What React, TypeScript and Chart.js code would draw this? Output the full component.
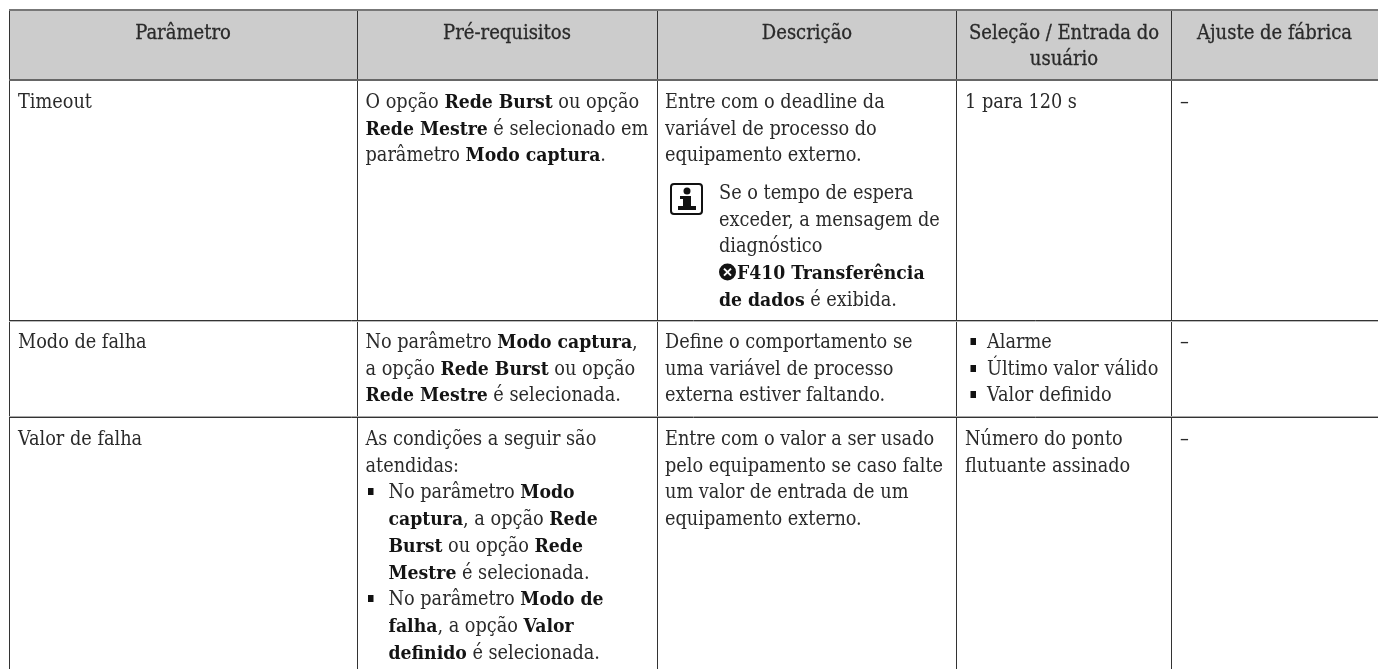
import React, { useEffect, useRef } from "react";
import { Chart, registerables } from "chart.js";

Chart.register(...registerables);

const columnEdges = [9, 357, 657, 957, 1171];
const rowEdges = [10, 80, 320, 321, 416, 417];
const rowEdgeColors = ["#777777", "#666666", "#333333", "#bbbbbb", "#aaaaaa", "#333333"];
const rowEdgeWidths = [2, 2, 1, 1, 1, 1];
const headerBandX = [9, 1378];
const headerBandTop = 10;
const headerBandBottom = 80;

const columnLeft = [18, 365.5, 665, 965, 1180];
const bulletLeft = [0, 368, 0, 970.5, 0];
const bulletText = [0, 388.5, 0, 987, 0];

const headerLabels = [["Parâmetro"], ["Pré-requisitos"], ["Descrição"], ["Seleção / Entrada do", "usuário"], ["Ajuste de fábrica"]];

const parameterCol = ["Timeout", "Modo de falha", "Valor de falha"];
const prereqRow1 = ["O opção **Rede Burst** ou opção", "**Rede Mestre** é selecionado em", "parâmetro **Modo captura**."];
const prereqRow2 = ["No parâmetro **Modo captura**,", "a opção **Rede Burst** ou opção", "**Rede Mestre** é selecionada."];
const prereqRow3 = ["As condições a seguir são", "atendidas:"];
const prereqRow3Bullets = [
  ["No parâmetro **Modo**", "**captura**, a opção **Rede**", "**Burst** ou opção **Rede**", "**Mestre** é selecionada."],
  ["No parâmetro **Modo de**", "**falha**, a opção **Valor**", "**definido** é selecionada."],
];
const descRow1 = ["Entre com o deadline da", "variável de processo do", "equipamento externo."];
const descNote = ["Se o tempo de espera", "exceder, a mensagem de", "diagnóstico", "@**F410 Transferência**", "**de dados** é exibida."];
const descRow2 = ["Define o comportamento se", "uma variável de processo", "externa estiver faltando."];
const descRow3 = ["Entre com o valor a ser usado", "pelo equipamento se caso falte", "um valor de entrada de um", "equipamento externo."];
const selectRow1 = ["1 para 120 s"];
const selectRow2Bullets = ["Alarme", "Último valor válido", "Valor definido"];
const selectRow3 = ["Número do ponto", "flutuante assinado"];
const factoryValue = "–";

const baselines = { header: 39, row1: 108, row2: 348, row3: 445, note: 199 };
const lineStep = 26.7;
const headerStep = 25.5;
const FONT = '"DejaVu Serif Condensed", "DejaVu Serif", serif';
const INK = "#2a2a2a";
const BOLD_INK = "#141414";
const SIZE = 19.7;
const BOLD_SIZE = 19.2;
const HEADER_SIZE = 20;

function drawRich(ctx: CanvasRenderingContext2D, text: string, x: number, y: number) {
  let cx = x;
  let src = text;
  if (src.startsWith("@")) {
    src = src.slice(1);
    const r = 8.5;
    ctx.fillStyle = BOLD_INK;
    ctx.beginPath();
    ctx.arc(cx + r, y - 7, r, 0, Math.PI * 2);
    ctx.fill();
    ctx.strokeStyle = "#ffffff";
    ctx.lineWidth = 2;
    ctx.beginPath();
    ctx.moveTo(cx + r - 3.5, y - 10.5);
    ctx.lineTo(cx + r + 3.5, y - 3.5);
    ctx.moveTo(cx + r + 3.5, y - 10.5);
    ctx.lineTo(cx + r - 3.5, y - 3.5);
    ctx.stroke();
    cx += 2 * r + 1;
  }
  src.split("**").forEach((part, i) => {
    ctx.font = i % 2 ? `bold ${BOLD_SIZE}px ${FONT}` : `${SIZE}px ${FONT}`;
    ctx.fillStyle = i % 2 ? BOLD_INK : INK;
    ctx.fillText(part, cx, y);
    cx += ctx.measureText(part).width;
  });
}

function drawLines(ctx: CanvasRenderingContext2D, lines: string[], x: number, y: number) {
  lines.forEach((l, i) => drawRich(ctx, l, x, y + i * lineStep));
}

function drawBullets(ctx: CanvasRenderingContext2D, groups: string[][], bx: number, tx: number, y: number) {
  let yy = y;
  groups.forEach((g) => {
    ctx.fillStyle = "#111111";
    ctx.fillRect(bx, Math.round(yy) - 10, 5.5, 7);
    g.forEach((l) => {
      drawRich(ctx, l, tx, yy);
      yy += lineStep;
    });
  });
}

function drawInfoIcon(ctx: CanvasRenderingContext2D, x: number, y: number) {
  ctx.strokeStyle = "#111111";
  ctx.fillStyle = "#111111";
  ctx.lineWidth = 2;
  ctx.beginPath();
  ctx.roundRect(x, y, 31, 30, 3);
  ctx.stroke();
  ctx.beginPath();
  ctx.arc(x + 16, y + 7, 3.5, 0, Math.PI * 2);
  ctx.fill();
  ctx.fillRect(x + 9, y + 12, 11, 3);
  ctx.fillRect(x + 12, y + 12, 8, 13);
  ctx.fillRect(x + 7, y + 22, 18, 4);
}

const tablePlugin = {
  id: "tableText",
  afterDraw(chart: any) {
    const ctx: CanvasRenderingContext2D = chart.ctx;
    const xs = chart.scales.x;
    const ys = chart.scales.y;
    const px = (v: number) => xs.getPixelForValue(v);
    const py = (v: number) => ys.getPixelForValue(v);
    ctx.save();
    ctx.textBaseline = "alphabetic";
    ctx.textAlign = "center";
    ctx.font = `${HEADER_SIZE}px ${FONT}`;
    ctx.fillStyle = INK;
    ctx.strokeStyle = INK;
    ctx.lineWidth = 0.3;
    headerLabels.forEach((lines, i) => {
      const left = columnEdges[i];
      const right = i + 1 < columnEdges.length ? columnEdges[i + 1] : headerBandX[1];
      lines.forEach((l, j) => {
        ctx.fillText(l, px((left + right) / 2), py(baselines.header + j * headerStep));
        ctx.strokeText(l, px((left + right) / 2), py(baselines.header + j * headerStep));
      });
    });
    ctx.textAlign = "left";
    [baselines.row1, baselines.row2, baselines.row3].forEach((b, i) => {
      drawRich(ctx, parameterCol[i], px(columnLeft[0]), py(b));
      drawRich(ctx, factoryValue, px(columnLeft[4]), py(b));
    });
    drawLines(ctx, prereqRow1, px(columnLeft[1]), py(baselines.row1));
    drawLines(ctx, prereqRow2, px(columnLeft[1]), py(baselines.row2));
    drawLines(ctx, prereqRow3, px(columnLeft[1]), py(baselines.row3));
    drawBullets(ctx, prereqRow3Bullets, px(bulletLeft[1]), px(bulletText[1]), py(baselines.row3 + 2 * lineStep));
    drawLines(ctx, descRow1, px(columnLeft[2]), py(baselines.row1));
    drawInfoIcon(ctx, px(671), py(184));
    drawLines(ctx, descNote, px(719), py(baselines.note));
    drawLines(ctx, descRow2, px(columnLeft[2]), py(baselines.row2));
    drawLines(ctx, descRow3, px(columnLeft[2]), py(baselines.row3));
    drawLines(ctx, selectRow1, px(columnLeft[3]), py(baselines.row1));
    drawBullets(ctx, selectRow2Bullets.map((s) => [s]), px(bulletLeft[3]), px(bulletText[3]), py(baselines.row2));
    drawLines(ctx, selectRow3, px(columnLeft[3]), py(baselines.row3));
    ctx.restore();
  },
};

export default function App() {
  const ref = useRef<HTMLCanvasElement>(null);
  useEffect(() => {
    const chart = new Chart(ref.current!, {
      type: "line",
      data: {
        datasets: [
          {
            data: headerBandX.map((x) => ({ x, y: headerBandTop })),
            borderWidth: 0,
            pointRadius: 0,
            backgroundColor: "#cccccc",
            fill: { value: headerBandBottom },
          } as any,
        ],
      },
      plugins: [tablePlugin],
      options: {
        animation: false,
        responsive: false,
        devicePixelRatio: 1,
        layout: { padding: { left: 9, top: 9, right: 0, bottom: 0 } },
        plugins: { legend: { display: false }, tooltip: { enabled: false } },
        scales: {
          x: {
            type: "linear",
            min: 9,
            max: 1378,
            afterBuildTicks: (axis: any) => {
              axis.ticks = columnEdges.map((value) => ({ value }));
            },
            ticks: { display: false },
            border: { display: false },
            grid: { color: "#333333", lineWidth: 1, drawTicks: false, z: 1 },
          },
          y: {
            type: "linear",
            reverse: true,
            min: 9,
            max: 669,
            afterBuildTicks: (axis: any) => {
              axis.ticks = rowEdges.map((value) => ({ value }));
            },
            ticks: { display: false },
            border: { display: false },
            grid: {
              color: (c: any) => rowEdgeColors[c.index] ?? "#333333",
              lineWidth: (c: any) => rowEdgeWidths[c.index] ?? 1,
              drawTicks: false,
              z: 1,
            },
          },
        },
      },
    } as any);
    return () => chart.destroy();
  }, []);
  return (
    <canvas
      ref={ref}
      width={1378}
      height={669}
      style={{ position: "fixed", left: 0, top: 0, display: "block" }}
    />
  );
}
